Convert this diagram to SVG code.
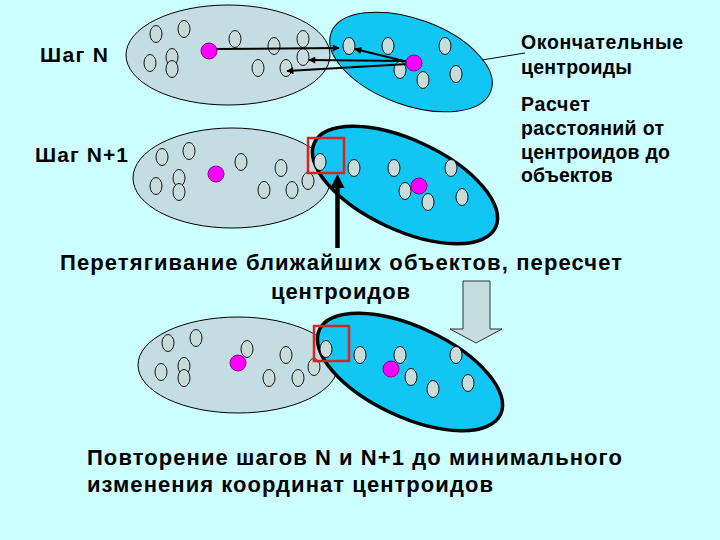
<svg xmlns="http://www.w3.org/2000/svg" width="720" height="540" viewBox="0 0 720 540">
<style>
.bg{fill:#ccffff}
.gray{fill:#c4dde2;stroke:#000;stroke-width:1}
.blue{fill:#12c6f4;stroke:#000;stroke-width:1}
.blue.thick{stroke-width:3.5}
.obj{fill:#c8dcdc;stroke:#000;stroke-width:0.9}
.cen{fill:#ff00ff;stroke:#880088;stroke-width:1}
.lbl{font-family:"Liberation Sans",Arial,sans-serif;font-weight:bold;fill:#000}
.conn{stroke:#000;stroke-width:2;fill:none}
.sel{fill:none;stroke:#e0201c;stroke-width:2.5}
</style>
<defs>
<marker id="ah" viewBox="0 0 10 10" refX="9" refY="5" markerWidth="9" markerHeight="7" markerUnits="userSpaceOnUse" orient="auto">
<path d="M0,0 L10,5 L0,10 z" fill="#000"/>
</marker>
<ellipse id="o" class="obj" rx="6" ry="8.5"/>
</defs>
<rect class="bg" x="0" y="0" width="720" height="540"/>

<g id="stepN-gray">
<ellipse class="gray" cx="228" cy="55" rx="102" ry="50"/>
<use href="#o" x="156" y="34"/><use href="#o" x="184" y="29"/><use href="#o" x="235" y="39"/>
<use href="#o" x="274" y="46"/><use href="#o" x="303" y="39"/><use href="#o" x="303" y="57"/>
<use href="#o" x="150" y="63"/><use href="#o" x="172" y="57"/><use href="#o" x="172" y="69"/>
<use href="#o" x="258" y="68"/><use href="#o" x="286" y="68"/>
</g>
<g id="stepN-blue">
<ellipse class="blue" cx="411" cy="62" rx="85" ry="43" transform="rotate(20 411 62)"/>
<use href="#o" x="349" y="46"/><use href="#o" x="388" y="46"/><use href="#o" x="445" y="46"/>
<use href="#o" x="400" y="70"/><use href="#o" x="423" y="80"/><use href="#o" x="456" y="74"/>
</g>

<g id="stepN1-gray">
<ellipse class="gray" cx="232" cy="178" rx="99" ry="50"/>
<use href="#o" x="162" y="157"/><use href="#o" x="189" y="151"/><use href="#o" x="241" y="162"/>
<use href="#o" x="281" y="168"/><use href="#o" x="156" y="186"/><use href="#o" x="179" y="178"/>
<use href="#o" x="179" y="192"/><use href="#o" x="264" y="190"/><use href="#o" x="292" y="190"/>
</g>
<g id="stepN1-blue">
<ellipse class="blue thick" cx="405" cy="185" rx="100" ry="45" transform="rotate(25 405 185)"/>
<use href="#o" x="308" y="181"/>
<use href="#o" x="320" y="162"/><use href="#o" x="354" y="168"/><use href="#o" x="394" y="168"/>
<use href="#o" x="451" y="168"/><use href="#o" x="405" y="191"/><use href="#o" x="428" y="202"/>
<use href="#o" x="462" y="197"/>
</g>

<g id="result-gray">
<ellipse class="gray" cx="238" cy="365" rx="100" ry="48"/>
<use href="#o" x="168" y="343"/><use href="#o" x="196" y="338"/><use href="#o" x="247" y="349"/>
<use href="#o" x="286" y="355"/><use href="#o" x="161" y="372"/><use href="#o" x="184" y="366"/>
<use href="#o" x="184" y="378"/><use href="#o" x="269" y="378"/><use href="#o" x="298" y="378"/>
</g>
<g id="result-blue">
<ellipse class="blue thick" cx="410" cy="372" rx="100" ry="45" transform="rotate(25 410 372)"/>
<use href="#o" x="314" y="367"/>
<use href="#o" x="326" y="349"/><use href="#o" x="360" y="355"/><use href="#o" x="400" y="355"/>
<use href="#o" x="456" y="355"/><use href="#o" x="411" y="377"/><use href="#o" x="433" y="389"/>
<use href="#o" x="468" y="383"/>
</g>

<g id="connectors">
<line class="conn" x1="212" y1="49" x2="339" y2="48" marker-end="url(#ah)"/>
<line class="conn" x1="408" y1="62" x2="355" y2="49" marker-end="url(#ah)"/>
<line class="conn" x1="408" y1="61" x2="309" y2="60" marker-end="url(#ah)"/>
<line class="conn" x1="408" y1="64" x2="287" y2="71" marker-end="url(#ah)"/>
<line x1="482" y1="60" x2="525" y2="53" stroke="#000" stroke-width="1"/>
<line x1="337.5" y1="248" x2="337.5" y2="186" stroke="#000" stroke-width="4.5"/>
<polygon points="330.5,188 344.5,188 337.5,174" fill="#000"/>
<polygon points="463,281 490,281 490,329 502,329 476,343 450,329 463,329" fill="#c6dde0" stroke="#333" stroke-width="1"/>
</g>

<g id="centroids">
<circle class="cen" cx="209" cy="51" r="8"/>
<circle class="cen" cx="414" cy="63" r="8"/>
<circle class="cen" cx="216" cy="174" r="8"/>
<circle class="cen" cx="419" cy="186" r="8"/>
<circle class="cen" cx="238" cy="363" r="8"/>
<circle class="cen" cx="391" cy="369" r="8"/>
</g>

<g id="selections">
<rect class="sel" x="308" y="138" width="36" height="35"/>
<rect class="sel" x="314" y="326" width="35" height="35"/>
</g>

<g id="labels">
<text class="lbl" x="40" y="62" font-size="21" textLength="68" lengthAdjust="spacing">Шаг N</text>
<text class="lbl" x="35" y="162" font-size="21" textLength="93" lengthAdjust="spacing">Шаг N+1</text>
<text class="lbl" x="521" y="49" font-size="19.5" textLength="162" lengthAdjust="spacing">Окончательные</text>
<text class="lbl" x="521" y="74" font-size="19.5" textLength="111" lengthAdjust="spacing">центроиды</text>
<text class="lbl" x="521" y="111" font-size="19.5" textLength="69" lengthAdjust="spacing">Расчет</text>
<text class="lbl" x="521" y="135" font-size="19.5" textLength="143" lengthAdjust="spacing">расстояний от</text>
<text class="lbl" x="521" y="159" font-size="19.5" textLength="149" lengthAdjust="spacing">центроидов до</text>
<text class="lbl" x="521" y="182" font-size="19.5">объектов</text>
<text class="lbl" x="60" y="270" font-size="22" textLength="562" lengthAdjust="spacing">Перетягивание ближайших объектов, пересчет</text>
<text class="lbl" x="271" y="299" font-size="22" textLength="139" lengthAdjust="spacing">центроидов</text>
<text class="lbl" x="87" y="465" font-size="22" textLength="535" lengthAdjust="spacing">Повторение шагов N и N+1 до минимального</text>
<text class="lbl" x="87" y="492" font-size="22" textLength="406" lengthAdjust="spacing">изменения координат центроидов</text>
</g>
</svg>
